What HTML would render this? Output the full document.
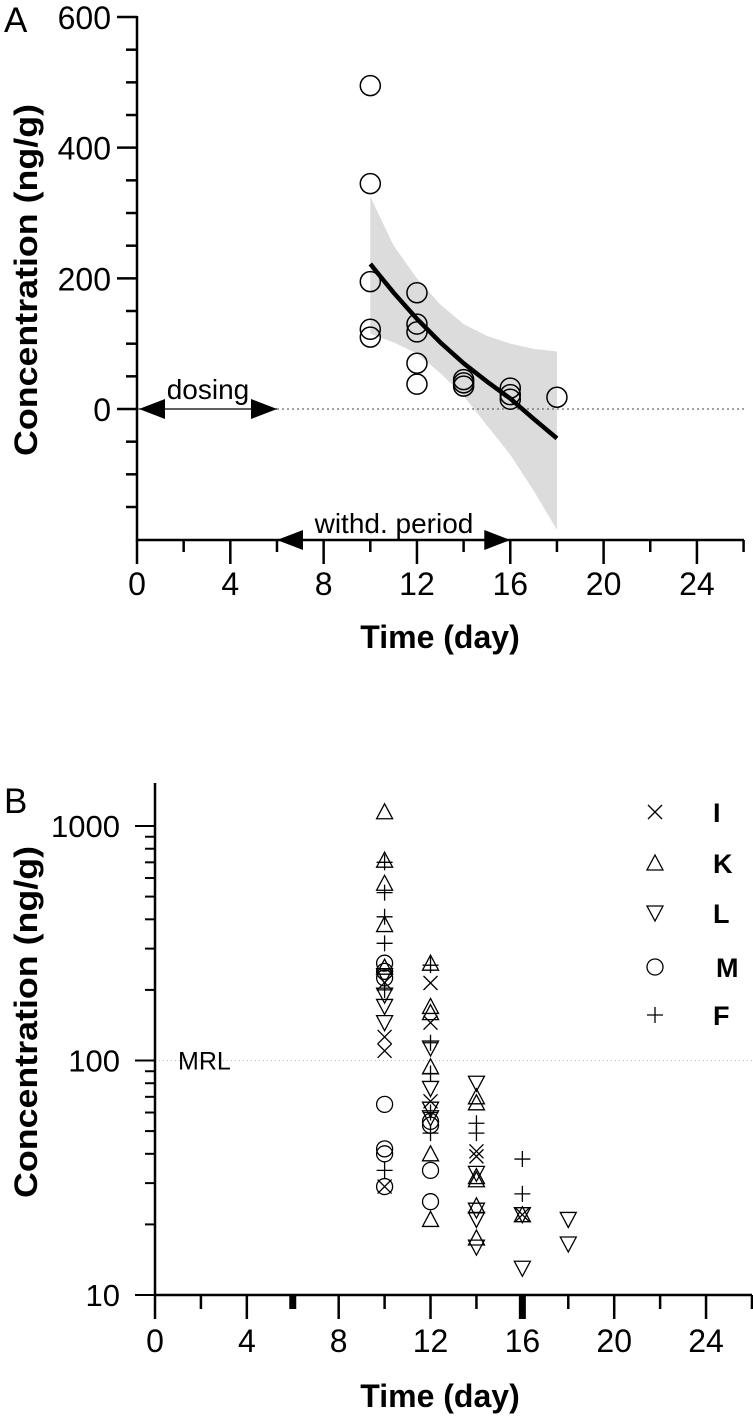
<!DOCTYPE html>
<html><head><meta charset="utf-8"><style>
body{margin:0;background:#fff}
svg{display:block;font-family:"Liberation Sans",Arial,sans-serif}
</style></head><body>
<svg id="s" width="753" height="1416" viewBox="0 0 753 1416" xmlns="http://www.w3.org/2000/svg">
<text x="4" y="32" font-size="35">A</text>
<text x="4" y="813" font-size="35">B</text>
<text transform="translate(37,280) rotate(-90)" text-anchor="middle" font-size="32" font-weight="bold" textLength="352" lengthAdjust="spacingAndGlyphs">Concentration (ng/g)</text>
<text x="440" y="648" text-anchor="middle" font-size="32" font-weight="bold">Time (day)</text>
<text transform="translate(37,1022) rotate(-90)" text-anchor="middle" font-size="32" font-weight="bold" textLength="352" lengthAdjust="spacingAndGlyphs">Concentration (ng/g)</text>
<text x="440" y="1407" text-anchor="middle" font-size="32" font-weight="bold">Time (day)</text>
<g id="ga"></g>
<g id="gb"></g>
</svg>
<script>
// Panel A data
const aDays=[10,10,10,10,10,12,12,12,12,12,14,14,14,16,16,16,18];
const aConc=[495,345,195,122,110,178,130,118,70,38,45,40,35,32,22,15,18];
const fitDays=[10,11,12,13,14,15,16,17,18];
const fitConc=[222,178,138,102,70,42,16,-15,-45];
const bandUpper=[325,250,200,160,130,112,100,92,88];
const bandLower=[115,102,85,55,20,-25,-70,-125,-185];
const aYTicks=[0,200,400,600];
const xTicks=[0,4,8,12,16,20,24];
// Panel B data
const seriesNames=['I','K','L','M','F'];
const bI=[[10,126],[10,110],[10,29],[10,215],[12,214],[12,145],[12,67],[14,41],[14,39],[16,22]];
const bK=[[10,1150],[10,715],[10,570],[10,380],[10,250],[12,260],[12,170],[12,160],[12,94],[12,40],[12,21],[14,70],[14,66],[14,31],[14,32],[14,24],[14,17.5],[16,22]];
const bL=[[10,190],[10,170],[10,145],[10,230],[12,113],[12,76],[12,62],[12,57],[14,80],[14,33],[14,23],[14,21],[14,16],[16,22],[16,13],[18,21],[18,16.5]];
const bM=[[10,260],[10,240],[10,225],[10,65],[10,42],[10,40],[10,29],[12,53],[12,55],[12,34],[12,25]];
const bF=[[10,700],[10,520],[10,410],[10,316],[10,200],[10,34],[12,255],[12,119],[12,88],[12,49],[12,60],[14,54],[14,49],[16,38],[16,27]];
const bYTicks=[10,100,1000];
const MRL=100;

const NS='http://www.w3.org/2000/svg';
function mk(tag,attrs,parent){const e=document.createElementNS(NS,tag);for(const k in attrs)e.setAttribute(k,attrs[k]);parent.appendChild(e);return e;}
const ga=document.getElementById('ga'), gb=document.getElementById('gb');
const axA=d=>137+d*23.33, ayA=v=>409-v*0.6533;
const axB=d=>155+d*22.96, ayB=v=>1295-(Math.log10(v)-1)*234.5;

// ---- Panel A ----
let bp='M'+fitDays.map((d,i)=>axA(d)+','+ayA(bandUpper[i])).join('L');
for(let i=fitDays.length-1;i>=0;i--)bp+='L'+axA(fitDays[i])+','+ayA(bandLower[i]);
let e=mk('path',{d:bp+'Z',fill:'#dcdcdc'},ga);


e=mk('line',{x1:axA(0),y1:ayA(0),x2:744,y2:ayA(0),stroke:'#444','stroke-width':1,'stroke-dasharray':'2,3'},ga);


aDays.forEach((d,i)=>{const c=mk('circle',{cx:axA(d),cy:ayA(aConc[i]),r:10,fill:'none',stroke:'#000','stroke-width':1.5},ga);

});
e=mk('path',{d:'M'+fitDays.map((d,i)=>axA(d)+','+ayA(fitConc[i])).join('L'),fill:'none',stroke:'#000','stroke-width':4.5},ga);


e=mk('path',{d:`M137,16V540H744`,fill:'none',stroke:'#000','stroke-width':2.5},ga);


for(let v=-150;v<=600;v+=50){const maj=aYTicks.includes(v);mk('line',{x1:maj?117:126,x2:137,y1:ayA(v),y2:ayA(v),stroke:'#000','stroke-width':2.5},ga);}
aYTicks.forEach(v=>{const t=mk('text',{x:111,y:ayA(v)+12,'text-anchor':'end','font-size':32},ga);t.textContent=v;

});
for(let d=0;d<=26;d+=2){const maj=d%4==0;mk('line',{x1:axA(d),x2:axA(d),y1:540,y2:maj?564:552,stroke:'#000','stroke-width':2.5},ga);}
xTicks.forEach(d=>{const t=mk('text',{x:axA(d),y:595,'text-anchor':'middle','font-size':32},ga);t.textContent=d;

});
function arrow(x1,x2,y,name,g){const a=mk('g',{},g);
mk('line',{x1:x1,x2:x2,y1:y,y2:y,stroke:'#000','stroke-width':1.2},a);
mk('path',{d:`M${x1},${y}l26,-10v20z`,fill:'#000'},a);
mk('path',{d:`M${x2},${y}l-26,-10v20z`,fill:'#000'},a);}
arrow(axA(0)+2,axA(6),409,'dosing-arrow',ga);
arrow(axA(6),axA(16),540,'withdrawal-arrow',ga);
e=mk('text',{x:208,y:399,'text-anchor':'middle','font-size':28},ga);e.textContent='dosing';


e=mk('text',{x:394,y:533,'text-anchor':'middle','font-size':28},ga);e.textContent='withd. period';



// ---- Panel B ----
e=mk('line',{x1:155,x2:752,y1:ayB(MRL),y2:ayB(MRL),stroke:'#bbb','stroke-width':1,'stroke-dasharray':'1,3'},gb);


e=mk('text',{x:178,y:ayB(MRL)+9,'font-size':25},gb);e.textContent='MRL';


function marker(type,x,y,g){const s={fill:'none',stroke:'#000','stroke-width':1.3};let p;
if(type=='I')p=`M${x-7},${y-7}L${x+7},${y+7}M${x-7},${y+7}L${x+7},${y-7}`;
else if(type=='K')p=`M${x},${y-8}L${x+8},${y+7}H${x-8}Z`;
else if(type=='L')p=`M${x-8},${y-7}H${x+8}L${x},${y+8}Z`;
else if(type=='F')p=`M${x-8},${y}H${x+8}M${x},${y-8}V${y+8}`;
if(type=='M'){return mk('circle',Object.assign({cx:x,cy:y,r:8},s),g);}
return mk('path',Object.assign({d:p},s),g);}
const allSeries=[bI,bK,bL,bM,bF];
allSeries.forEach((ser,si)=>{ser.forEach(pt=>{const m=marker(seriesNames[si],axB(pt[0]),ayB(pt[1]),gb);

});});
const legY=[812,863,913,967,1015];
seriesNames.forEach((n,i)=>{const lg=mk('g',{},gb);


marker(n,655,legY[i],lg);
const t=mk('text',{x:n=='M'?716:713,y:legY[i]+10,'font-size':27,'font-weight':'bold'},lg);t.textContent=n;});
e=mk('path',{d:`M155,783V1295H752`,fill:'none',stroke:'#000','stroke-width':2.5},gb);


for(let dec=10;dec<=1000;dec*=10){for(let k=1;k<=9;k++){const v=dec*k;if(dec==1000&&k>1)break;
mk('line',{x1:k==1?135:145,x2:155,y1:ayB(v),y2:ayB(v),stroke:'#000','stroke-width':2},gb);}}
bYTicks.forEach(v=>{const t=mk('text',{x:120,y:ayB(v)+11,'text-anchor':'end','font-size':31},gb);t.textContent=v;

});
for(let d=0;d<=26;d+=2){const maj=d%4==0;mk('line',{x1:axB(d),x2:axB(d),y1:1295,y2:maj?1319:1309,stroke:'#000','stroke-width':(d==6||d==16)?7:2.5},gb);}
xTicks.forEach(d=>{const t=mk('text',{x:axB(d),y:1352,'text-anchor':'middle','font-size':32},gb);t.textContent=d;

});
</script>
</body></html>
